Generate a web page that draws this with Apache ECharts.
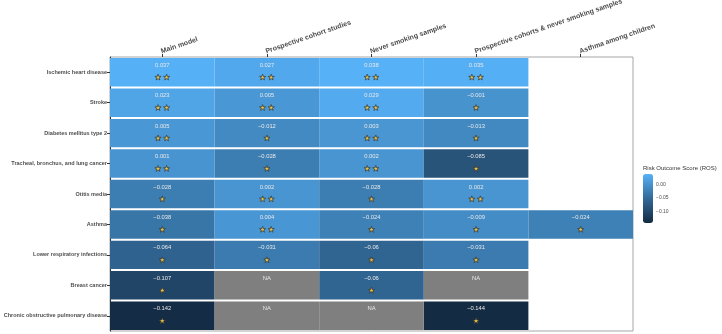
<!DOCTYPE html>
<html>
<head>
<meta charset="utf-8">
<script src="https://cdn.jsdelivr.net/npm/echarts@6/dist/echarts.min.js"></script>
<style>
html,body{margin:0;padding:0;background:#fff;}
#chart{width:722px;height:334px;}
</style>
</head>
<body>
<div id="chart"></div>
<script>
// ---- data ----
const diseases = [
  'Ischemic heart disease',
  'Stroke',
  'Diabetes mellitus type 2',
  'Tracheal, bronchus, and lung cancer',
  'Otitis media',
  'Asthma',
  'Lower respiratory infections',
  'Breast cancer',
  'Chronic obstructive pulmonary disease'
];
const models = [
  'Main model',
  'Prospective cohort studies',
  'Never smoking samples',
  'Prospective cohorts & never smoking samples',
  'Asthma among children'
];
// 'NA' = not available (grey cell), null = no cell
const ros = [
  [0.037, 0.027, 0.038, 0.035, null],
  [0.023, 0.005, 0.029, -0.001, null],
  [0.005, -0.012, 0.003, -0.013, null],
  [0.001, -0.028, 0.002, -0.085, null],
  [-0.028, 0.002, -0.028, 0.002, null],
  [-0.038, 0.004, -0.024, -0.009, -0.024],
  [-0.064, -0.031, -0.06, -0.031, null],
  [-0.107, 'NA', -0.06, 'NA', null],
  [-0.142, 'NA', 'NA', -0.144, null]
];
const stars = [
  [2, 2, 2, 2, 0],
  [2, 2, 2, 1, 0],
  [2, 1, 2, 1, 0],
  [2, 1, 2, 1, 0],
  [1, 2, 1, 2, 0],
  [1, 2, 1, 1, 1],
  [1, 1, 1, 1, 0],
  [1, 0, 1, 0, 0],
  [1, 0, 0, 1, 0]
];
const legendTitle = 'Risk Outcome Score (ROS)';
const legendTicks = [0, -0.05, -0.1];

// ---- build series data ----
const cellData = [], naData = [];
let vmin = Infinity, vmax = -Infinity;
ros.forEach((row, r) => row.forEach((v, c) => {
  if (v === null) return;
  if (v === 'NA') { naData.push([c, r, 0, 0]); return; }
  cellData.push([c, r, v, stars[r][c]]);
  vmin = Math.min(vmin, v); vmax = Math.max(vmax, v);
}));

const FONT = '"Liberation Sans", Arial, sans-serif';
const STAR = 'M50 0 L61.8 35.1 L97.6 34.5 L69 56.7 L79.4 90.5 L50 70 L20.6 90.5 L31 56.7 L2.4 34.5 L38.2 35.1 Z';
const fmt = v => String(v).replace('-', '\u2212');

function cellGroup(api, fill, label, nStars) {
  const c = api.coord([api.value(0), api.value(1)]);
  const s = api.size([1, 1]);
  const children = [{
    type: 'rect',
    shape: { x: c[0] - s[0] / 2, y: c[1] - s[1] / 2 + 1, width: s[0], height: s[1] - 2 },
    style: { fill: fill }
  }, {
    type: 'text',
    x: c[0], y: c[1] - 7,
    style: { text: label, fill: '#e8e8e8', fontSize: 5.8, fontFamily: FONT, align: 'center', verticalAlign: 'middle' }
  }];
  const sz = 6.2;
  const offs = nStars === 2 ? [-4.3, 4.3] : nStars === 1 ? [0] : [];
  offs.forEach(o => children.push({
    type: 'path',
    shape: { pathData: STAR, x: c[0] + o - sz / 2, y: c[1] + 5 - sz / 2, width: sz, height: sz * 0.95 },
    style: { fill: '#E9C54B', stroke: '#333', lineWidth: 0.7 }
  }));
  return { type: 'group', children: children };
}

const chart = echarts.init(document.getElementById('chart'), null, { renderer: 'canvas' });
chart.setOption({
  animation: false,
  textStyle: { fontFamily: FONT },
  grid: [
    { left: 110, right: 89, top: 57, bottom: 3, show: true, borderColor: '#a6a6a6', borderWidth: 1, backgroundColor: '#fff', containLabel: false, outerBoundsMode: 'none' },
    { left: 643, top: 174, width: 10, height: 49, containLabel: false, outerBoundsMode: 'none' }
  ],
  xAxis: [{
    type: 'category', data: models, position: 'top', gridIndex: 0,
    axisLine: { show: false },
    axisTick: { show: true, alignWithLabel: true, length: 3, lineStyle: { color: '#333' } },
    axisLabel: { rotate: -19, align: 'left', verticalAlign: 'bottom', fontSize: 7, fontWeight: 'bold', color: '#4d4d4d', margin: 2, interval: 0, fontFamily: FONT },
    splitLine: { show: false }
  }, {
    type: 'value', gridIndex: 1, show: false, min: 0, max: 1
  }],
  yAxis: [{
    type: 'category', data: diseases, inverse: true, gridIndex: 0,
    axisLine: { show: true, lineStyle: { color: '#333' } },
    axisTick: { show: true, alignWithLabel: true, length: 3, lineStyle: { color: '#333' } },
    axisLabel: { fontSize: 5.5, fontWeight: 'bold', color: '#4d4d4d', margin: 3, interval: 0, fontFamily: FONT },
    splitLine: { show: false }
  }, {
    type: 'value', gridIndex: 1, position: 'right', min: vmin, max: vmax,
    axisLine: { show: false },
    axisTick: { show: true, inside: true, length: 2, customValues: legendTicks, lineStyle: { color: '#fff', width: 0.6 } },
    axisLabel: { show: true, customValues: legendTicks, fontSize: 5, color: '#4d4d4d', margin: 3, formatter: v => fmt(v.toFixed(2)), fontFamily: FONT },
    splitLine: { show: false }
  }],
  visualMap: {
    type: 'continuous', seriesIndex: 0, dimension: 2,
    min: vmin, max: vmax, calculable: false, show: true,
    left: 643, top: 174, itemWidth: 10, itemHeight: 49, padding: 0,
    inRange: { color: ['#132B43', '#336A98', '#56B1F7'] }
  },
  graphic: [{
    type: 'text', left: 643, top: 165,
    style: { text: legendTitle, fontSize: 6, fill: '#333', fontFamily: FONT }
  }],
  series: [{
    type: 'custom', xAxisIndex: 0, yAxisIndex: 0, data: cellData,
    encode: { x: 0, y: 1 },
    renderItem: (params, api) => cellGroup(api, api.visual('color'), fmt(api.value(2)), api.value(3))
  }, {
    type: 'custom', xAxisIndex: 0, yAxisIndex: 0, data: naData,
    encode: { x: 0, y: 1 },
    renderItem: (params, api) => cellGroup(api, '#7F7F7F', 'NA', 0)
  }, {
    type: 'scatter', xAxisIndex: 1, yAxisIndex: 1, data: [], silent: true
  }]
});
</script>
</body>
</html>
